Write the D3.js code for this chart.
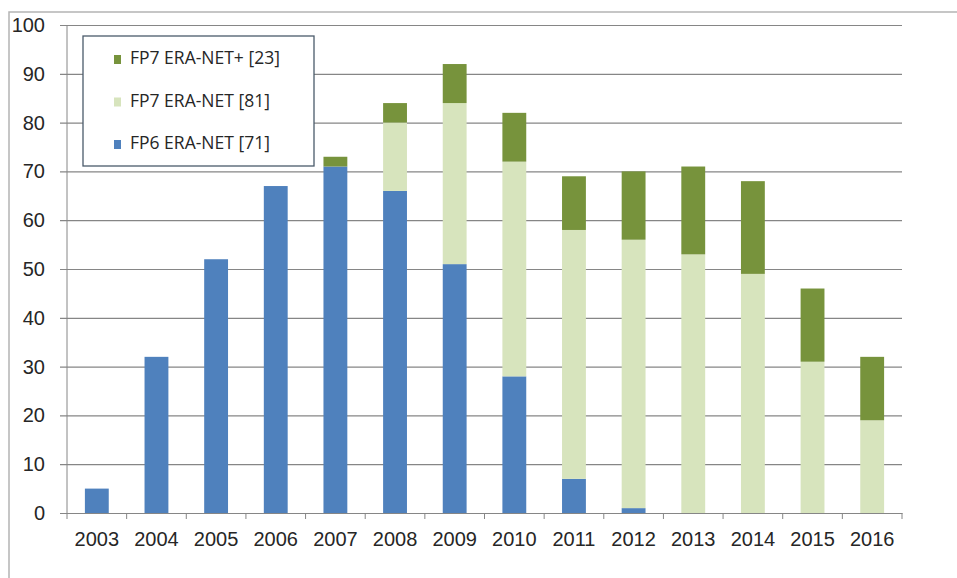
<!DOCTYPE html>
<html lang="en">
<head>
  <meta charset="UTF-8" />
  <title>ERA-NET by year</title>
  <style>
    body {
      margin: 0;
      background: #fff;
      font-family: "Open Sans", Arial, sans-serif;
    }
    svg { display: block; }
    .tick text { fill: #262626; font-size: 20px; }
    .legend text { fill: #262626; font-size: 17.5px; }
  </style>
</head>
<body>
  <svg width="957" height="578"></svg>

  <script src="https://cdnjs.cloudflare.com/ajax/libs/d3/7.8.5/d3.min.js"></script>
  <script>
    // data
    const years = ["2003","2004","2005","2006","2007","2008","2009","2010","2011","2012","2013","2014","2015","2016"];
    const fp6 =    [5, 32, 52, 67, 71, 66, 51, 28, 7, 1, 0, 0, 0, 0];
    const fp7 =    [0, 0, 0, 0, 0, 14, 33, 44, 51, 55, 53, 49, 31, 19];
    const fp7plus = [0, 0, 0, 0, 2, 4, 8, 10, 11, 14, 18, 19, 15, 13];
    const yTicks = [0, 10, 20, 30, 40, 50, 60, 70, 80, 90, 100];

    const seriesKeys = ["fp6", "fp7", "fp7plus"];
    const seriesNames = {
      fp7plus: "FP7 ERA-NET+ [23]",
      fp7: "FP7 ERA-NET [81]",
      fp6: "FP6 ERA-NET [71]"
    };
    const colors = { fp6: "#4f81bd", fp7: "#d7e4bd", fp7plus: "#77933c" };

    const rows = years.map((yr, i) => ({ year: yr, fp6: fp6[i], fp7: fp7[i], fp7plus: fp7plus[i] }));

    const svg = d3.select("svg");

    // outer chart frame (only top and left visible)
    svg.append("path")
      .attr("d", "M9,578V12H957")
      .attr("fill", "none")
      .attr("stroke", "#b4b4b4")
      .attr("stroke-width", 1.5);

    const plotL = 67, plotR = 902, plotT = 25, plotB = 513;

    const x = d3.scaleBand()
      .domain(years)
      .range([plotL, plotR])
      .paddingInner(0.6)
      .paddingOuter(0.3);

    const y = d3.scaleLinear()
      .domain([0, 100])
      .range([plotB, plotT]);

    // gridlines + y labels
    const yAxis = svg.append("g")
      .attr("transform", `translate(${plotL - 7},0)`)
      .call(d3.axisLeft(y).tickValues(yTicks).tickSize(-(plotR - plotL + 7)).tickPadding(15));
    yAxis.select(".domain").remove();
    yAxis.selectAll(".tick line").attr("stroke", "#868686").attr("stroke-width", 1.2);

    // y axis line
    svg.append("line")
      .attr("x1", plotL).attr("x2", plotL)
      .attr("y1", plotT).attr("y2", plotB)
      .attr("stroke", "#868686");

    // stacked bars
    const stack = d3.stack().keys(seriesKeys)(rows);
    svg.append("g")
      .selectAll("g")
      .data(stack)
      .join("g")
      .attr("fill", d => colors[d.key])
      .selectAll("rect")
      .data(d => d)
      .join("rect")
      .attr("x", d => x(d.data.year))
      .attr("width", x.bandwidth())
      .attr("y", d => y(d[1]))
      .attr("height", d => y(d[0]) - y(d[1]));

    // x axis
    const xAxis = svg.append("g")
      .attr("transform", `translate(0,${plotB})`)
      .call(d3.axisBottom(x).tickSize(0).tickPadding(19));
    xAxis.select(".domain").attr("stroke", "#868686").attr("stroke-width", 1.2);

    // category boundary ticks
    const step = x.step();
    const bounds = years.map(yr => x(yr) + x.bandwidth() / 2 - step / 2).concat([plotR]);
    svg.append("g")
      .selectAll("line")
      .data(bounds)
      .join("line")
      .attr("x1", d => d).attr("x2", d => d)
      .attr("y1", plotB).attr("y2", plotB + 6)
      .attr("stroke", "#868686");

    // legend
    const legend = svg.append("g").attr("class", "legend");
    legend.append("rect")
      .attr("x", 83).attr("y", 36)
      .attr("width", 231).attr("height", 130)
      .attr("fill", "#fff")
      .attr("stroke", "#4b5b6b")
      .attr("stroke-width", 1.3);

    const legendKeys = ["fp7plus", "fp7", "fp6"];
    const item = legend.selectAll("g.item")
      .data(legendKeys)
      .join("g")
      .attr("class", "item")
      .attr("transform", (d, i) => `translate(114,${64 + i * 42.5})`);
    item.append("rect")
      .attr("x", 0).attr("y", -9)
      .attr("width", 7).attr("height", 9)
      .attr("fill", d => colors[d]);
    item.append("text")
      .attr("x", 16).attr("y", 0)
      .text(d => seriesNames[d]);
  </script>
</body>
</html>
